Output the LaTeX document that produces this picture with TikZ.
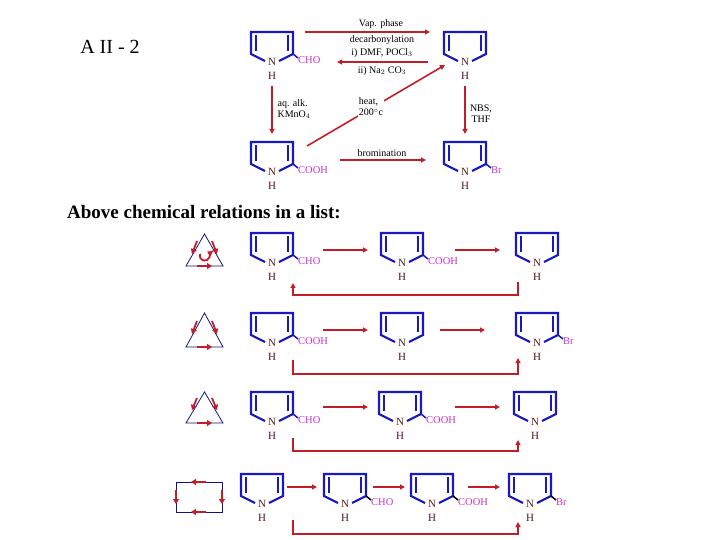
\documentclass[tikz,border=0pt]{standalone}
\usepackage{fontspec}
\setmainfont{Liberation Serif}
\usetikzlibrary{arrows.meta}
\definecolor{ringblue}{RGB}{25,25,190}
\definecolor{nbrown}{RGB}{80,25,25}
\definecolor{subpink}{RGB}{200,50,200}
\definecolor{arrred}{RGB}{195,30,40}
\newcommand\pyrring{%
  \draw[ring] (-7,-1)--(-21,-8)--(-21,-30)--(21,-30)--(21,-8)--(7,-1);
  \draw[ring] (-16,-27)--(-16,-11);
  \draw[ring] (16,-27)--(16,-11);
  \node[ntext] (-N) at (0,0) {N};
  \node[ntext] (-H) at (0,14) {H};}
\tikzset{
  ring/.style={draw=ringblue,line width=2.2pt},
  ntext/.style={text=nbrown,font=\fontsize{11}{11}\selectfont,inner sep=0pt},
  sub/.style={text=subpink,font=\fontsize{10.5}{11}\selectfont,inner sep=0pt,anchor=west},
  lab/.style={font=\fontsize{10}{11}\selectfont,inner sep=0pt},
  arr/.style={draw=arrred,line width=1.6pt,-{Triangle[length=5pt,width=5pt]}},
  small/.style={draw=arrred,line width=1.8pt,-{Triangle[length=5pt,width=6pt]}},
  icon/.style={draw=ringblue!70!black,line width=0.8pt},
  pics/pyr/.style={code={\pyrring}},
  pics/pyrs/.style 2 args={code={\pyrring
    \draw[line width=1.5pt,#2] (21,-8)--(26,-4);
    \node[sub] (-S) at (26,-2) {#1};}},
}
\begin{document}
\begin{tikzpicture}[x=1pt,y=-1pt]
\useasboundingbox (0,0) rectangle (720,540);
\node[font=\fontsize{20}{20}\selectfont,inner sep=0pt] (title) at (110,47) {A II - 2};
% top scheme
\pic (A) at (272,62) {pyrs={CHO}{ringblue}};
\pic (B) at (465,62) {pyr};
\pic (C) at (272,172) {pyrs={COOH}{ringblue}};
\pic (D) at (465,172) {pyrs={Br}{ringblue}};
\coordinate (a1s) at (305,32); \coordinate (a1e) at (430,32);
\coordinate (a2s) at (428,62); \coordinate (a2e) at (337,62);
\draw[arr] (a1s)--(a1e);
\draw[arr] (a2s)--(a2e);
\node[lab] (l1) at (381,24) {Vap. phase};
\node[lab] (l2) at (382,40) {decarbonylation};
\node[lab] (l3) at (382,53) {i) DMF, POCl$_3$};
\node[lab] (l4) at (382,71) {ii) Na$_2$ CO$_3$};
\coordinate (v1s) at (272,86); \coordinate (v1e) at (272,134);
\draw[arr] (v1s)--(v1e);
\node[lab,align=left] (l5) at (294,109) {aq. alk.\\KMnO$_4$};
\coordinate (d1s) at (307,146); \coordinate (d1e) at (445,65);
\draw[arr] (d1s)--(d1e);
\node[lab,align=left,fill=white,inner sep=1pt] (l6) at (371,107) {heat,\\200$^\circ$c};
\coordinate (v2s) at (465,86); \coordinate (v2e) at (465,134);
\draw[arr] (v2s)--(v2e);
\node[lab,align=center] (l7) at (481,114) {NBS,\\THF};
\coordinate (b1s) at (340,160); \coordinate (b1e) at (426,160);
\draw[arr] (b1s)--(b1e);
\node[lab] (l8) at (382,153) {bromination};
\node[font=\bfseries\fontsize{19}{20}\selectfont,inner sep=0pt,anchor=west] (head) at (67,212) {Above chemical relations in a list:};
% row 1
\pic (R1a) at (272,263) {pyrs={CHO}{ringblue}};
\pic (R1b) at (402,263) {pyrs={COOH}{ringblue}};
\pic (R1c) at (537,263) {pyr};
\coordinate (r1a) at (323,250); \coordinate (r1b) at (368,250);
\coordinate (r1c) at (455,250); \coordinate (r1d) at (500,250);
\draw[arr] (r1a)--(r1b); \draw[arr] (r1c)--(r1d);
\coordinate (r1f) at (518,282); \coordinate (r1t) at (293,283);
\draw[arr] (r1f)--(518,295)-|(r1t);
% row 2
\pic (R2a) at (272,343) {pyrs={COOH}{ringblue}};
\pic (R2b) at (402,343) {pyr};
\pic (R2c) at (537,343) {pyrs={Br}{ringblue}};
\coordinate (r2a) at (323,330); \coordinate (r2b) at (368,330);
\coordinate (r2c) at (440,330); \coordinate (r2d) at (485,330);
\draw[arr] (r2a)--(r2b); \draw[arr] (r2c)--(r2d);
\coordinate (r2f) at (293,360); \coordinate (r2t) at (518,358);
\draw[arr] (r2f)--(293,374)-|(r2t);
% row 3
\pic (R3a) at (272,422) {pyrs={CHO}{ringblue}};
\pic (R3b) at (400,422) {pyrs={COOH}{ringblue}};
\pic (R3c) at (535,422) {pyr};
\coordinate (r3a) at (323,407); \coordinate (r3b) at (368,407);
\coordinate (r3c) at (455,407); \coordinate (r3d) at (500,407);
\draw[arr] (r3a)--(r3b); \draw[arr] (r3c)--(r3d);
\coordinate (r3f) at (293,438); \coordinate (r3t) at (518,440);
\draw[arr] (r3f)--(293,451)-|(r3t);
% row 4
\pic (R4a) at (262,504) {pyr};
\pic (R4b) at (345,504) {pyrs={CHO}{black}};
\pic (R4c) at (432,504) {pyrs={COOH}{black}};
\pic (R4d) at (530,504) {pyrs={Br}{black}};
\coordinate (r4a) at (287,487); \coordinate (r4b) at (317,487);
\coordinate (r4c) at (373,487); \coordinate (r4d) at (405,487);
\coordinate (r4e) at (468,487); \coordinate (r4g) at (500,487);
\draw[arr] (r4a)--(r4b); \draw[arr] (r4c)--(r4d); \draw[arr] (r4e)--(r4g);
\coordinate (r4f) at (293,520); \coordinate (r4t) at (518,522);
\draw[arr] (r4f)--(293,534)-|(r4t);
% icons
\draw[icon] (186,266)--(223,266)--(204.5,234)--cycle;
\draw[small] (197,241)--(192,254);
\draw[small] (212,241)--(217,254);
\draw[small] (197,266)--(212,266);
\draw[small] (200,254) arc[start angle=200,end angle=-60,radius=5];
\draw[icon] (186,347)--(223,347)--(204.5,313)--cycle;
\draw[small] (197,321)--(192,334);
\draw[small] (212,321)--(217,334);
\draw[small] (197,347)--(212,347);
\draw[icon] (186,423)--(223,423)--(204.5,392)--cycle;
\draw[small] (197,398)--(192,410);
\draw[small] (212,398)--(217,410);
\draw[small] (197,423)--(212,423);
\draw[icon] (176,482) rectangle (222,512);
\draw[small] (206,482)--(191,482);
\draw[small] (176,490)--(176,504);
\draw[small] (222,490)--(222,504);
\draw[small] (206,512)--(191,512);
\end{tikzpicture}
\end{document}
